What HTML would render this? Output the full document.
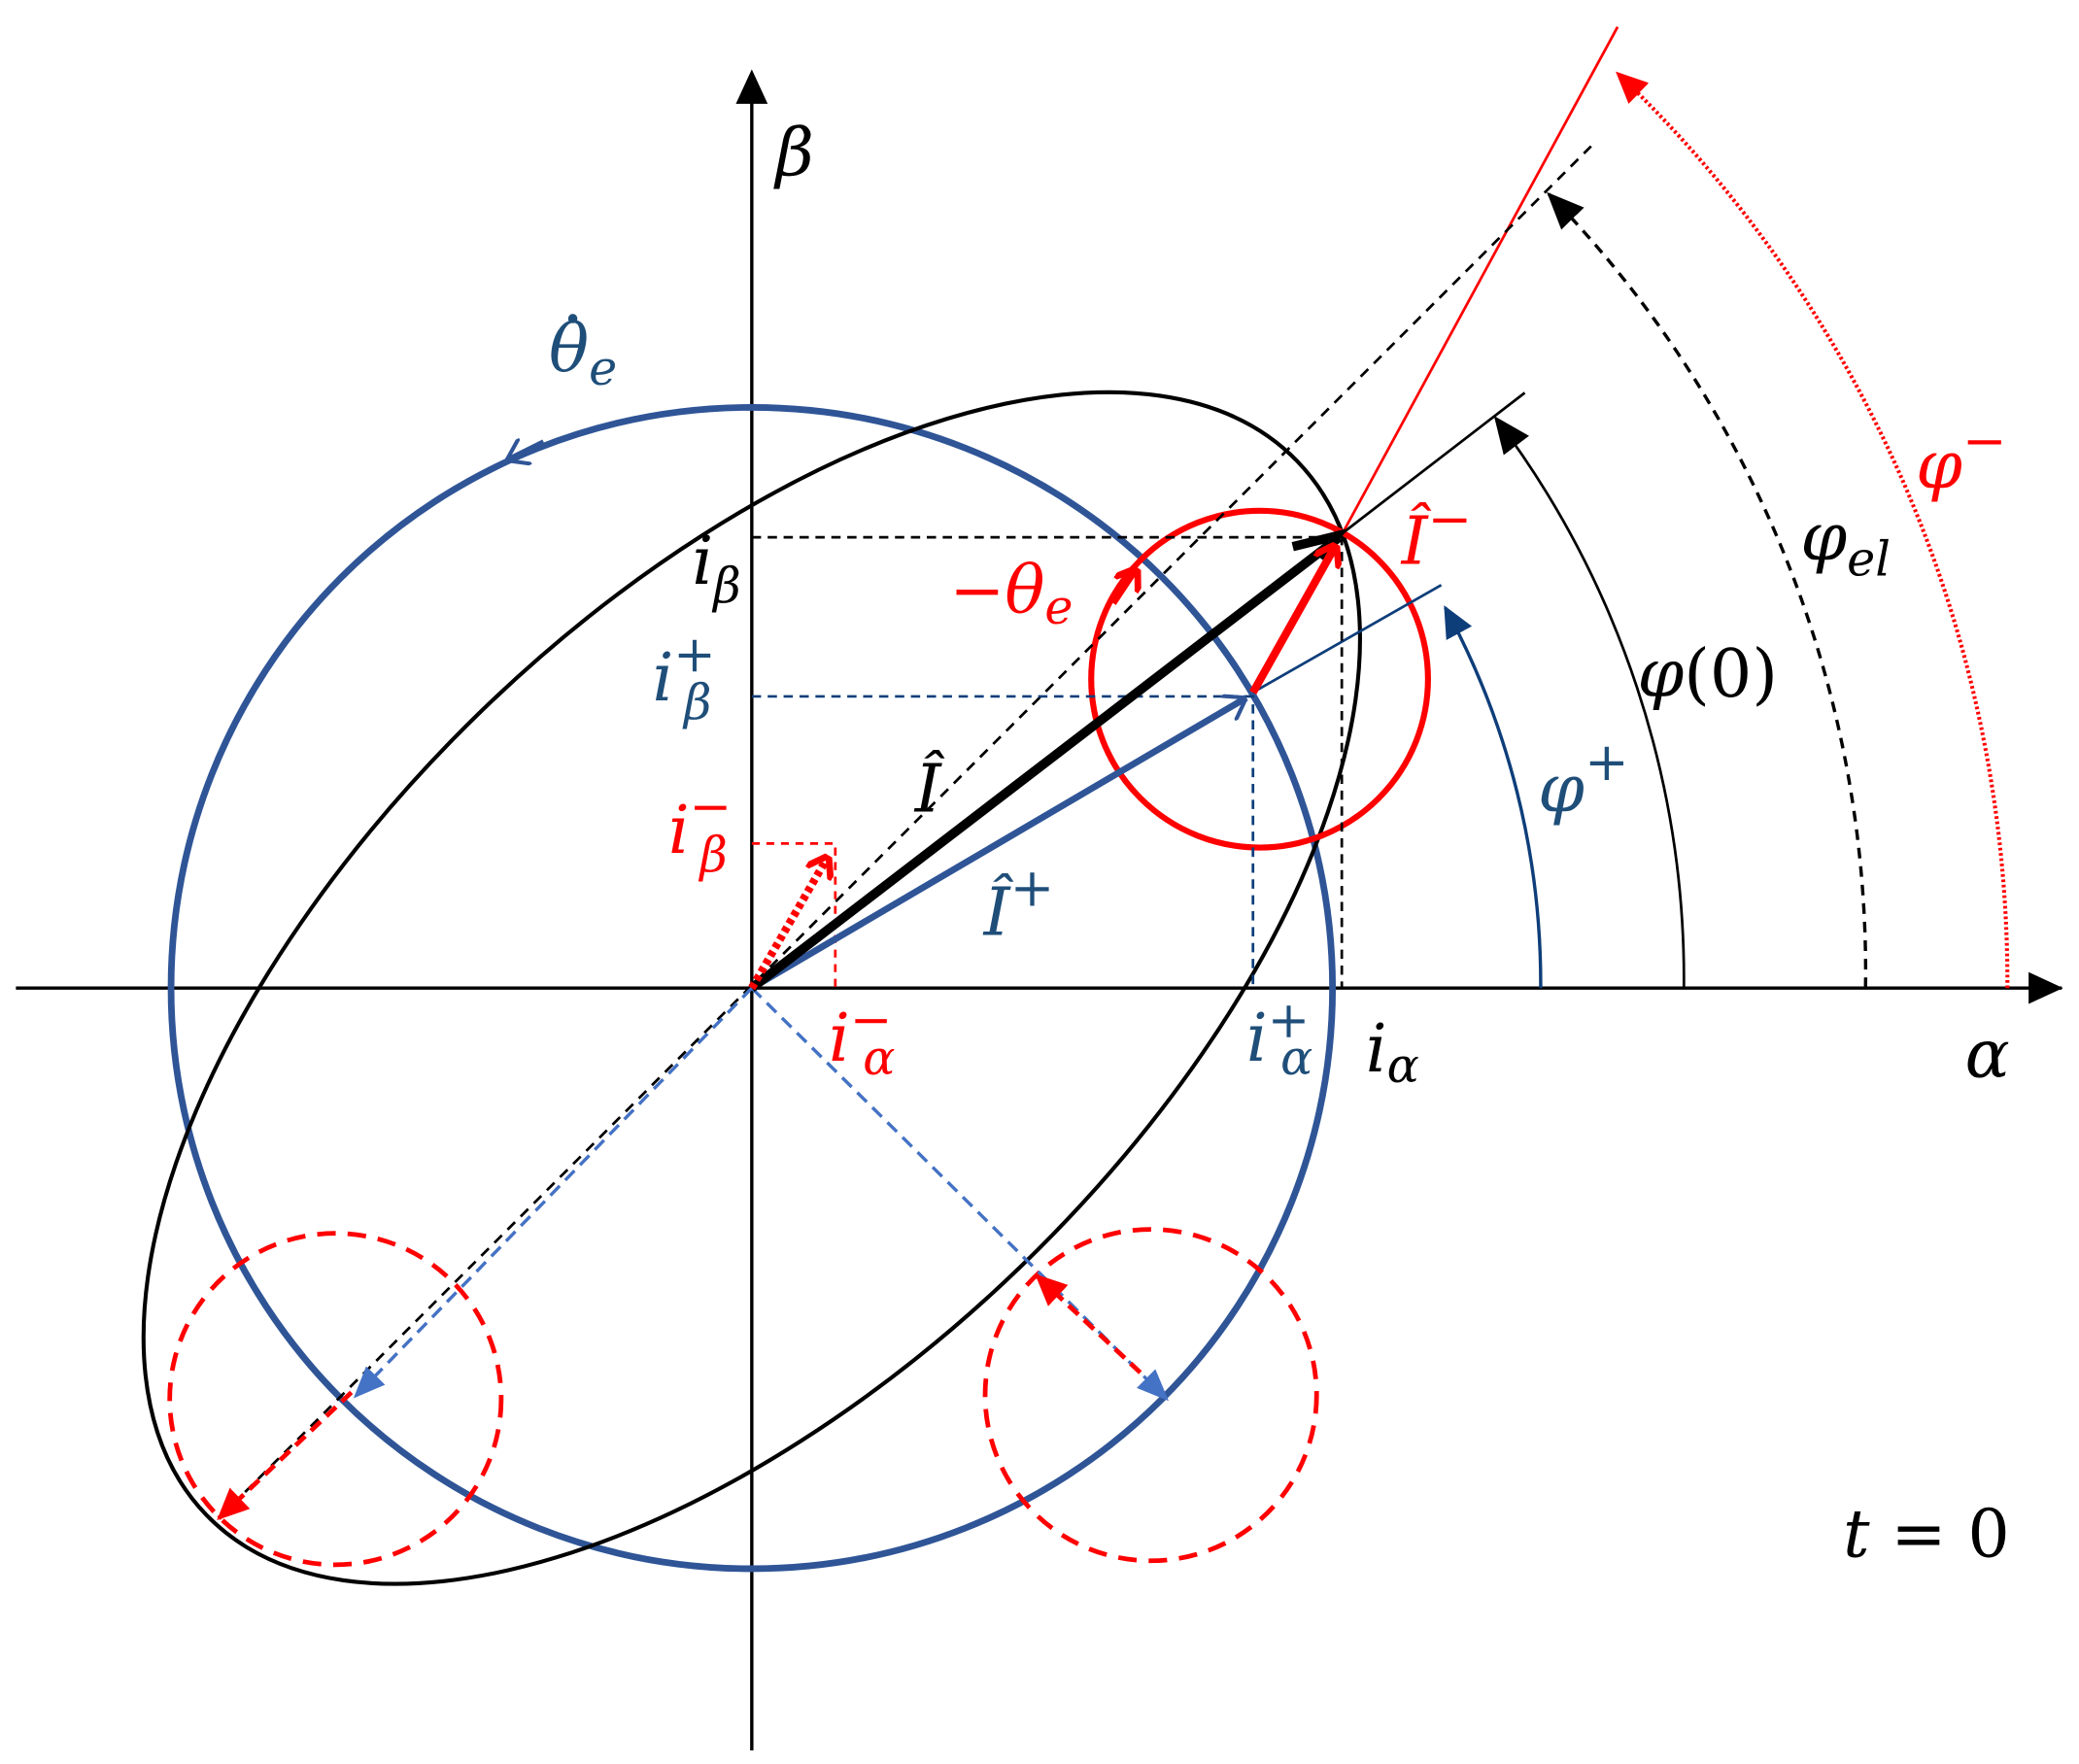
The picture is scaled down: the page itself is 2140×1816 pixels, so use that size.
<!DOCTYPE html>
<html><head><meta charset="utf-8"><style>
html,body{margin:0;padding:0;background:#fff}
svg{display:block}
text{font-family:"DejaVu Serif","Liberation Serif",serif;font-style:italic;font-size:50px}
</style></head><body>
<svg width="2140" height="1816" viewBox="0 0 1568 1330" xmlns="http://www.w3.org/2000/svg">
<defs>
<marker id="akb" markerWidth="28" markerHeight="24" refX="26" refY="12" orient="auto" markerUnits="userSpaceOnUse"><path d="M0,0 L28,12 L0,24 Z" fill="#000"/></marker>
<marker id="ab" markerWidth="24" markerHeight="22" refX="22" refY="11" orient="auto" markerUnits="userSpaceOnUse"><path d="M0,0 L24,11 L0,22 Z" fill="#0e3e7a"/></marker>
<marker id="abl" markerWidth="24" markerHeight="20" refX="22" refY="10" orient="auto" markerUnits="userSpaceOnUse"><path d="M0,0 L24,10 L0,20 Z" fill="#4472c4"/></marker>
<marker id="ar" markerWidth="24" markerHeight="22" refX="22" refY="11" orient="auto" markerUnits="userSpaceOnUse"><path d="M0,0 L24,11 L0,22 Z" fill="#f00"/></marker>
<marker id="ao" markerWidth="16" markerHeight="22" refX="16" refY="11" orient="auto" markerUnits="userSpaceOnUse"><path d="M0,0 L16,11 L0,22" fill="none" stroke="#f00" stroke-width="5"/></marker>
<marker id="aobl" markerWidth="16" markerHeight="22" refX="16" refY="11" orient="auto" markerUnits="userSpaceOnUse"><path d="M0,0 L16,11 L0,22" fill="none" stroke="#2f5597" stroke-width="3"/></marker>
</defs>
<line x1="12" y1="745" x2="1555" y2="745" stroke="#000" stroke-width="2.5"/>
<path d="M1530,733 L1556,745 L1530,757 Z"/>
<line x1="567" y1="1320" x2="567" y2="60" stroke="#000" stroke-width="2.5"/>
<path d="M555,78 L567,52 L579,78 Z"/>
<circle cx="567" cy="745" r="438" fill="none" stroke="#2f5597" stroke-width="5"/>
<ellipse cx="567" cy="745" rx="572" ry="292" transform="rotate(-44 567 745)" fill="none" stroke="#000" stroke-width="3"/>
<circle cx="950" cy="512" r="127" fill="none" stroke="#f00" stroke-width="4.5"/>
<circle cx="253" cy="1055" r="125" fill="none" stroke="#f00" stroke-width="3.5" stroke-dasharray="14,9"/>
<circle cx="868" cy="1052" r="125" fill="none" stroke="#f00" stroke-width="3.5" stroke-dasharray="14,9"/>
<line x1="567" y1="745" x2="1150" y2="296" stroke="#000" stroke-width="2"/>
<line x1="945" y1="522" x2="1087" y2="441" stroke="#0e3e7a" stroke-width="2"/>
<line x1="1012" y1="403" x2="1220" y2="20" stroke="#f00" stroke-width="2"/>
<line x1="165" y1="1145" x2="1200" y2="110" stroke="#000" stroke-width="2" stroke-dasharray="8,6"/>
<line x1="567" y1="745" x2="268" y2="1053" stroke="#4472c4" stroke-width="2.5" stroke-dasharray="10,6" marker-end="url(#abl)"/>
<line x1="567" y1="745" x2="880" y2="1055" stroke="#4472c4" stroke-width="2.5" stroke-dasharray="10,6" marker-end="url(#abl)"/>
<line x1="265" y1="1050" x2="165" y2="1145" stroke="#f00" stroke-width="3.5" stroke-dasharray="10,6" marker-end="url(#ar)"/>
<line x1="860" y1="1035" x2="782" y2="962" stroke="#f00" stroke-width="3.5" stroke-dasharray="10,6" marker-end="url(#ar)"/>
<path d="M567,405 H1012 V745" fill="none" stroke="#000" stroke-width="2" stroke-dasharray="7,5"/>
<path d="M567,525 H945 V745" fill="none" stroke="#0e3e7a" stroke-width="2" stroke-dasharray="7,5"/>
<path d="M567,636 H630 V745" fill="none" stroke="#f00" stroke-width="2" stroke-dasharray="6,5"/>
<path d="M1162,745 A595,595 0 0 0 1090,458" fill="none" stroke="#0e3e7a" stroke-width="2.5" marker-end="url(#ab)"/>
<path d="M1270,745 A702,702 0 0 0 1128,315" fill="none" stroke="#000" stroke-width="2" marker-end="url(#akb)"/>
<path d="M1407,745 A840,840 0 0 0 1168,146" fill="none" stroke="#000" stroke-width="2.5" stroke-dasharray="8,6" marker-end="url(#akb)"/>
<path d="M1514,745 A947,947 0 0 0 1220,55" fill="none" stroke="#f00" stroke-width="3" stroke-dasharray="2,2" marker-end="url(#ar)"/>
<line x1="567" y1="745" x2="940" y2="526" stroke="#2f5597" stroke-width="5" marker-end="url(#aobl)"/>
<line x1="567" y1="745" x2="1010" y2="405" stroke="#000" stroke-width="7"/>
<path d="M975,412 L1008,404 L995,420" fill="none" stroke="#000" stroke-width="7"/>
<line x1="945" y1="522" x2="1008" y2="410" stroke="#f00" stroke-width="6" marker-end="url(#ao)"/>
<line x1="567" y1="745" x2="625" y2="645" stroke="#f00" stroke-width="6" stroke-dasharray="4,3" marker-end="url(#ao)"/>
<path d="M410,333 L382,347" stroke="#2f5597" stroke-width="4" marker-end="url(#aobl)" fill="none"/>
<path d="M840,455 L858,428" stroke="#f00" stroke-width="4" marker-end="url(#ao)" fill="none"/>
<!-- labels -->
<text x="585" y="132">β</text>
<text x="414" y="280" fill="#1f4e79">θ<tspan font-size="36" dy="10">e</tspan></text>
<circle cx="432" cy="240" r="3.5" fill="#1f4e79"/>
<text x="522" y="440">i<tspan font-size="36" dy="14">β</tspan></text>
<text x="492" y="528" fill="#1f4e79">i<tspan font-size="38" dy="-22">+</tspan><tspan font-size="36" dx="-24" dy="36">β</tspan></text>
<text x="504" y="643" fill="#f00">i<tspan font-size="38" dy="-22">−</tspan><tspan font-size="36" dx="-24" dy="36">β</tspan></text>
<text x="690" y="612">Î</text>
<text x="742" y="705" fill="#1f4e79">Î<tspan font-size="40" dy="-22">+</tspan></text>
<text x="1057" y="425" fill="#f00">Î<tspan font-size="40" dy="-20">−</tspan></text>
<text x="716" y="462" fill="#f00">−θ<tspan font-size="36" dy="8">e</tspan></text>
<text x="1160" y="612" fill="#1f4e79">φ<tspan font-size="40" dy="-24">+</tspan></text>
<text x="1235" y="525">φ<tspan font-style="normal">(0)</tspan></text>
<text x="1358" y="422">φ<tspan font-size="36" dy="12">el</tspan></text>
<text x="1445" y="368" fill="#f00">φ<tspan font-size="40" dy="-22">−</tspan></text>
<text x="625" y="800" fill="#f00">i<tspan font-size="38" dy="-18">−</tspan><tspan font-size="36" dx="-22" dy="28">α</tspan></text>
<text x="940" y="800" fill="#1f4e79">i<tspan font-size="38" dy="-18">+</tspan><tspan font-size="36" dx="-22" dy="28">α</tspan></text>
<text x="1030" y="808">i<tspan font-size="36" dy="8">α</tspan></text>
<text x="1482" y="812">α</text>
<text x="1390" y="1174">t<tspan font-style="normal" dx="16">=</tspan><tspan font-style="normal" dx="16">0</tspan></text>
</svg>
</body></html>
